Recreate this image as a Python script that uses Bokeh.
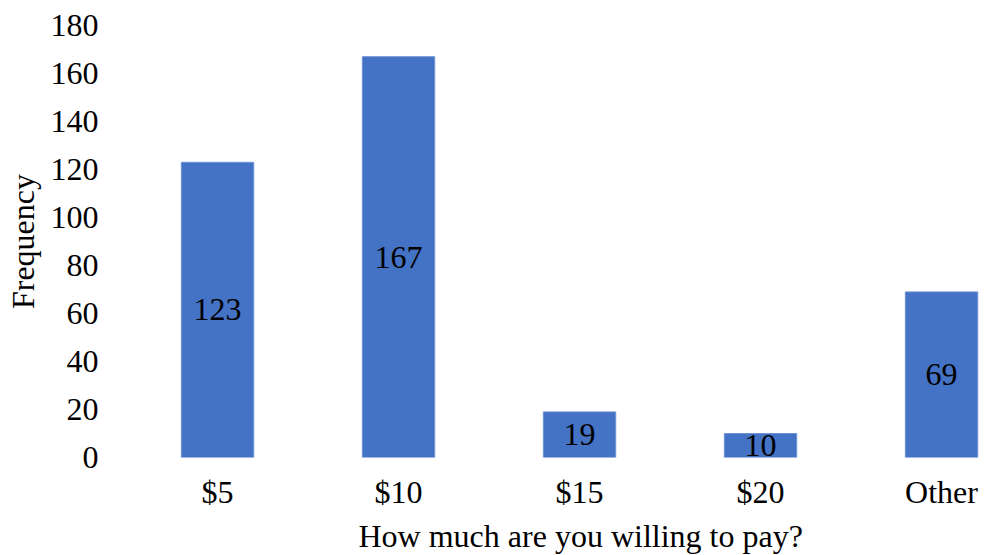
from bokeh.plotting import figure
from bokeh.models import Range1d, FixedTicker, Title, ColumnDataSource
from bokeh.core.properties import value
from bokeh.embed import file_html
from bokeh.resources import INLINE

categories = ["$5", "$10", "$15", "$20", "Other"]
counts = [123, 167, 19, 10, 69]
y_ticks = [0, 20, 40, 60, 80, 100, 120, 140, 160, 180]

FONT = "Liberation Serif"
FS = "32px"

xs = list(range(len(categories)))
src = ColumnDataSource(dict(x=xs, top=counts, mid=[c / 2 for c in counts],
                            lab=[str(c) for c in counts]))

p = figure(frame_width=865, frame_height=432, output_backend="svg", toolbar_location=None,
           x_range=Range1d(-0.503, 4.276), y_range=Range1d(0, 180),
           min_border_top=25, min_border_right=0, min_border_left=126, min_border_bottom=0)
p.outline_line_color = None
p.xgrid.grid_line_color = None
p.ygrid.grid_line_color = None

p.vbar(x="x", top="top", bottom=0, width=0.4, source=src,
       fill_color="#4472C4", line_color="#6F93D6", line_width=1)
p.text(x="x", y="mid", text="lab", source=src, text_align="center",
       text_baseline="middle", text_font=value(FONT), text_font_size=FS,
       text_color="black")

p.yaxis.ticker = FixedTicker(ticks=y_ticks)
p.xaxis.ticker = FixedTicker(ticks=xs)
p.xaxis.major_label_overrides = {i: c for i, c in enumerate(categories)}
for ax in (p.xaxis, p.yaxis):
    ax.axis_line_color = None
    ax.major_tick_line_color = None
    ax.minor_tick_line_color = None
    ax.major_tick_out = 0
    ax.major_tick_in = 0
    ax.major_label_text_font = FONT
    ax.major_label_text_font_size = FS
    ax.major_label_text_color = "black"
    ax.axis_label_text_font = FONT
    ax.axis_label_text_font_size = FS
    ax.axis_label_text_font_style = "normal"
    ax.axis_label_text_color = "black"
p.yaxis.major_label_standoff = 28
p.xaxis.major_label_standoff = 16
p.yaxis.axis_label = "Frequency"
p.yaxis.axis_label_standoff = 7

p.add_layout(Title(text="How much are you willing to pay?", align="left", offset=232,
                   text_font=FONT, text_font_size=FS, text_font_style="normal",
                   text_color="black", standoff=6), "below")

open("out.html", "w").write(file_html(p, INLINE))
